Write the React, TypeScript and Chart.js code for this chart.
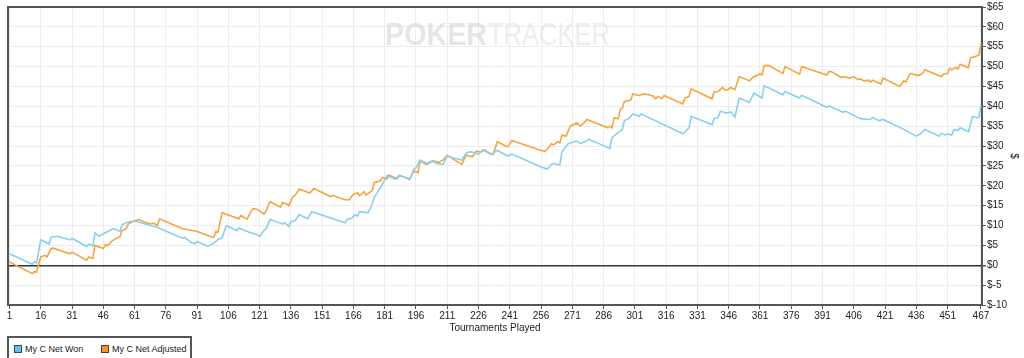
import React, { useEffect, useRef } from "react";
import { Chart, registerables } from "chart.js";

Chart.register(...registerables);

// Tournament number of each vertex of the "My C Net Won" line, and its value ($)
const netWonTournament = [1,12,13,14,16,20,21,24,30,31,38,39,41,42,44,47,49,51,54,55,57,59,62,72,84,85,88,90,91,96,99,101,103,105,110,111,116,119,121,123,124,126,132,133,135,136,138,140,144,146,162,163,165,167,168,169,173,175,176,180,182,186,188,191,193,195,196,198,201,204,206,209,211,214,218,220,222,224,226,228,232,235,240,242,256,259,261,262,265,266,267,269,273,275,279,289,290,295,296,298,300,303,304,324,325,327,328,338,339,341,342,345,347,349,351,356,358,362,363,372,373,380,381,393,394,401,402,409,414,415,418,420,430,436,438,440,447,448,450,451,453,454,456,457,461,463,465,466,467];
const netWonValue = [2.9,0.25,0.9,0.6,6.4,5.4,7.1,7.3,6.4,6.8,4.75,5.3,4.9,8.2,7.3,8.2,8.75,9.2,8.5,10.2,10.7,11.0,11.0,9.5,6.8,7.0,5.8,5.4,6.0,4.8,5.5,6.5,6.9,10.0,8.75,9.4,8.3,7.9,7.25,8.75,9.1,11.5,10.4,10.7,9.8,11.0,11.2,12.75,11.7,13.5,10.7,11.6,11.8,12.75,12.4,13.5,13.2,15.4,17.1,20.4,22.5,21.7,22.6,22.1,21.5,24.2,24.5,26.5,25.7,26.25,25.6,25.4,27.5,27.0,26.5,28.2,28.6,28.3,27.9,29.0,27.9,28.9,27.5,28.0,24.75,24.2,25.4,25.6,25.25,28.6,29.2,30.6,31.25,30.6,31.7,29.4,32.1,34.2,36.4,36.9,38.1,37.5,38.1,33.1,33.6,34.6,37.5,35.4,36.9,37.2,38.75,38.3,38.6,37.25,42.1,41.0,43.3,42.1,45.2,42.9,43.75,42.1,42.8,39.75,40.1,38.5,38.8,36.9,36.7,37.25,36.4,36.7,34.2,32.5,33.1,34.2,32.5,33.2,32.8,33.1,32.75,34.2,33.9,34.6,33.6,37.5,37.1,37.3,40.25];

// Tournament number of each vertex of the "My C Net Adjusted" line, and its value ($)
const netAdjTournament = [1,12,13,14,16,18,19,21,22,30,31,38,39,41,42,46,47,48,50,52,54,55,57,58,60,63,66,69,70,72,73,84,88,91,98,99,100,101,103,111,112,115,117,118,120,122,123,124,126,131,132,134,135,137,138,140,145,147,155,156,162,164,166,168,169,171,172,175,176,179,180,182,183,187,188,190,193,195,197,198,201,204,207,209,211,218,220,223,225,227,229,231,233,235,240,242,256,258,259,261,262,264,265,266,268,270,273,275,278,288,289,290,291,293,294,295,296,299,300,303,305,308,310,311,312,314,315,324,325,327,328,338,339,341,342,343,344,345,346,347,349,351,356,358,359,361,362,363,365,372,373,380,381,393,394,395,400,401,404,406,408,409,411,413,414,415,419,420,428,430,431,433,435,437,439,440,448,449,451,452,453,455,456,457,461,462,464,466,467];
const netAdjValue = [0.8,-2.1,-1.6,-1.7,2.1,2.5,2.1,4.2,4.3,2.9,3.3,1.25,2.1,1.7,5.0,4.2,5.2,4.9,6.0,6.7,7.2,8.75,9.2,10.4,11.0,11.5,10.8,10.4,10.6,10.0,11.7,9.2,8.8,8.5,7.1,7.0,8.5,8.3,13.2,11.7,12.5,11.6,13.75,14.3,14.0,13.3,12.9,13.6,16.0,14.6,15.8,15.4,15.0,17.3,17.6,19.2,18.2,19.3,17.3,17.6,16.5,16.5,17.9,18.2,17.5,18.5,17.7,18.75,20.8,21.25,22.1,21.7,22.7,21.8,22.6,22.3,21.7,23.75,23.3,26.25,25.4,26.25,25.9,26.5,27.7,25.4,27.7,27.3,28.7,28.5,29.0,28.3,27.9,31.1,29.75,31.4,28.9,28.75,29.2,30.6,30.3,31.1,30.8,32.75,32.5,35.0,35.8,35.0,36.7,34.6,35.0,34.6,37.1,36.9,39.2,39.6,41.25,41.6,43.1,42.75,43.1,42.9,42.5,41.9,42.5,41.9,42.75,40.6,42.1,42.5,44.4,41.9,43.6,43.75,44.2,44.75,44.2,44.0,44.4,44.75,44.2,47.5,46.4,47.5,47.6,48.2,47.9,50.2,50.3,48.3,50.0,48.1,50.0,47.9,48.7,48.8,47.25,47.5,47.1,47.5,46.7,46.9,46.4,46.6,46.1,46.6,45.6,47.1,45.0,46.4,46.1,48.3,48.0,47.75,48.3,49.2,47.5,48.1,48.3,49.6,49.2,49.8,49.4,50.6,49.75,52.25,52.5,52.9,55.6];

// X tick labels (tournaments played)
const xTickValues = [1,16,31,46,61,76,91,106,121,136,151,166,181,196,211,226,241,256,271,286,301,316,331,346,361,376,391,406,421,436,451,467];

const seriesNames = ["My C Net Won", "My C Net Adjusted"];
const seriesColors = ["#86d0f0", "#f8a33c"];
const legendSwatch = ["#5cc3ee", "#f7941d"];

const FONT = "'Liberation Sans', Arial, sans-serif";

const framePlugin = {
  id: "frame",
  beforeDatasetsDraw(chart: any) {
    const { ctx } = chart;
    ctx.save();
    ctx.textBaseline = "alphabetic";
    const baseY = 44.5;
    ctx.font = `bold 31px ${FONT}`;
    ctx.fillStyle = "rgba(205,205,205,0.5)";
    let w = ctx.measureText("POKER").width;
    ctx.save();
    ctx.translate(385, baseY);
    ctx.scale(102 / w, 1);
    ctx.fillText("POKER", 0, 0);
    ctx.restore();
    ctx.font = `31px ${FONT}`;
    ctx.fillStyle = "rgba(215,215,215,0.45)";
    w = ctx.measureText("TRACKER").width;
    ctx.save();
    ctx.translate(488, baseY);
    ctx.scale(122 / w, 1);
    ctx.fillText("TRACKER", 0, 0);
    ctx.restore();
    ctx.restore();
  },
  afterDraw(chart: any) {
    const { ctx, chartArea } = chart;
    ctx.save();
    ctx.strokeStyle = "#555";
    ctx.lineWidth = 2;
    ctx.beginPath();
    ctx.moveTo(chartArea.left, chartArea.bottom);
    ctx.lineTo(chartArea.left, chartArea.top);
    ctx.lineTo(chartArea.right, chartArea.top);
    ctx.stroke();
    ctx.restore();
  },
};

export default function App() {
  const canvasRef = useRef<HTMLCanvasElement | null>(null);

  useEffect(() => {
    if (!canvasRef.current) return;
    const wonData = netWonTournament.map((x, i) => ({ x, y: netWonValue[i] }));
    const adjData = netAdjTournament.map((x, i) => ({ x, y: netAdjValue[i] }));
    const chart = new Chart(canvasRef.current, {
      type: "line",
      data: {
        datasets: [
          {
            label: seriesNames[0],
            data: wonData,
            borderColor: seriesColors[0],
            backgroundColor: seriesColors[0],
            borderWidth: 1.6,
            pointRadius: 0,
            tension: 0,
          },
          {
            label: seriesNames[1],
            data: adjData,
            borderColor: seriesColors[1],
            backgroundColor: seriesColors[1],
            borderWidth: 1.6,
            pointRadius: 0,
            tension: 0,
          },
        ],
      },
      options: {
        animation: false,
        responsive: false,
        maintainAspectRatio: false,
        layout: { padding: { left: 8, top: 5, right: 0, bottom: 20 } },
        plugins: {
          legend: { display: false },
          tooltip: { enabled: false },
        },
        scales: {
          x: {
            type: "linear",
            min: 0.3,
            max: 467.5,
            afterBuildTicks(scale: any) {
              scale.ticks = xTickValues.map((v) => ({ value: v }));
            },
            afterFit(scale: any) {
              scale.height = 33;
            },
            ticks: {
              autoSkip: false,
              maxRotation: 0,
              padding: 1,
              color: "#222",
              font: { family: FONT, size: 10 },
              callback: (v: any) => String(v),
            },
            grid: {
              color: "#ececec",
              lineWidth: 1,
              tickColor: "#555",
              tickLength: 4,
            },
            border: { color: "#555", width: 2 },
            title: {
              display: true,
              text: "Tournaments Played",
              color: "#222",
              font: { family: FONT, size: 10 },
              padding: { top: 4, bottom: 4 },
            },
          },
          y: {
            position: "right",
            min: -10,
            max: 65,
            afterFit(scale: any) {
              scale.width = 42;
            },
            ticks: {
              stepSize: 5,
              padding: 1,
              color: "#222",
              font: { family: FONT, size: 10 },
              callback: (v: any) => `$${v}`,
            },
            grid: {
              color: (c: any) => (c.tick && c.tick.value === 0 ? "#333" : "#ececec"),
              lineWidth: (c: any) => (c.tick && c.tick.value === 0 ? 1.5 : 1),
              tickColor: "#555",
              tickLength: 4,
            },
            border: { color: "#555", width: 2 },
            title: {
              display: true,
              text: "$",
              color: "#222",
              font: { family: FONT, size: 10 },
              padding: { top: 4, bottom: 4 },
            },
          },
        },
      },
      plugins: [framePlugin],
    } as any);
    return () => chart.destroy();
  }, []);

  return (
    <div
      style={{
        position: "fixed",
        left: 0,
        top: 0,
        width: 1024,
        height: 358,
        overflow: "hidden",
        background: "#fff",
      }}
    >
      <canvas ref={canvasRef} width={1024} height={358} style={{ display: "block" }} />
      <div
        style={{
          position: "absolute",
          left: 7,
          top: 336,
          width: 181,
          height: 30,
          border: "2px solid #555",
          fontFamily: FONT,
          fontSize: 9,
          color: "#222",
          background: "#fff",
        }}
      >
        {seriesNames.map((name, i) => (
          <span
            key={name}
            style={{
              position: "absolute",
              left: i === 0 ? 5 : 92,
              top: 5,
              whiteSpace: "nowrap",
              lineHeight: "12px",
            }}
          >
            <span
              style={{
                display: "inline-block",
                width: 6,
                height: 6,
                background: legendSwatch[i],
                border: "1px solid #444",
                marginRight: 3,
                verticalAlign: "-1px",
              }}
            />
            {name}
          </span>
        ))}
      </div>
    </div>
  );
}
